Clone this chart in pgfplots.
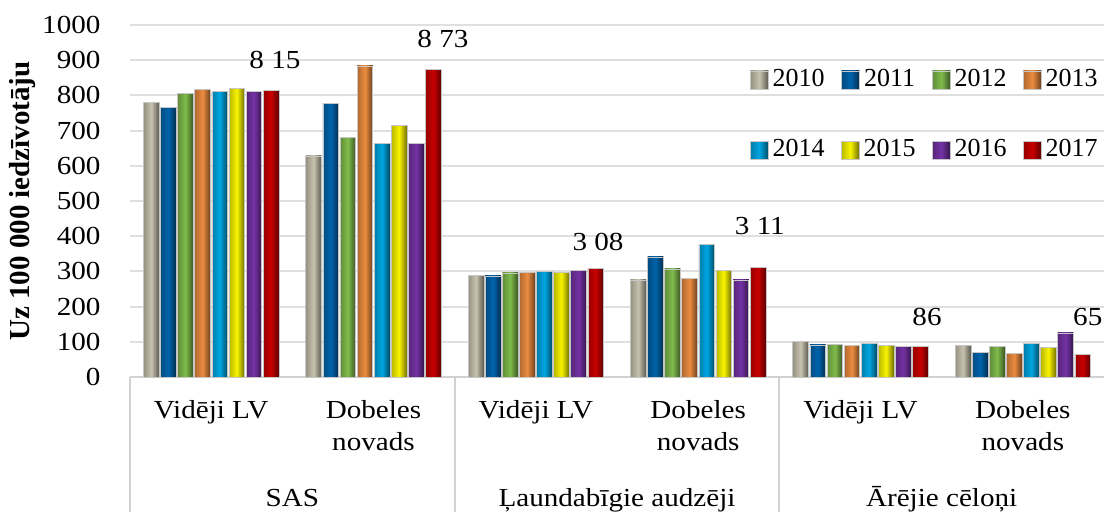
\documentclass[border=0pt]{standalone}
\usepackage{fontspec}
\setmainfont{Liberation Serif}
\usepackage{pgfplots}
\usepackage{pgfplotstable}
\pgfplotsset{compat=1.18}
\definecolor{c0}{RGB}{200,195,175}
\definecolor{c1}{RGB}{0,100,172}
\definecolor{c2}{RGB}{128,188,76}
\definecolor{c3}{RGB}{236,140,64}
\definecolor{c4}{RGB}{0,166,226}
\definecolor{c5}{RGB}{248,244,0}
\definecolor{c6}{RGB}{116,50,164}
\definecolor{c7}{RGB}{200,0,0}
\pgfplotsset{bevel/.style={draw=gray!45, line width=0.3pt, left color=#1!75!black, right color=#1!45!black, middle color=#1}}
\pgfplotstableread{
x y2010 y2011 y2012 y2013 y2014 y2015 y2016 y2017
0 780 765 806 816 812 820 812 815
1 628 778 681 884 664 715 663 873
2 288 287 296 297 301 298 302 308
3 276 341 307 280 377 302 276 311
4 100 91 93 90 95 89 86 86
5 89 69 88 66 96 84 125 65
}\data
\newcommand{\bevelseries}[3]{%
  \pgfplotsinvokeforeach{0,...,5}{%
    \addplot[bevel=#1, bar shift=#3, forget plot, restrict x to domain=##1:##1] table[x=x,y=#2]{\data};
  }%
}
\begin{document}
\fontsize{13}{16}\selectfont
\begin{tikzpicture}[txt/.style={xscale=1.12}]
\path[use as bounding box] (-65pt,-67.5pt) rectangle (487pt,188.5pt);
\begin{axis}[
  at={(0,0)}, anchor=south west,
  scale only axis, width=487pt, height=176pt,
  ybar, bar width=7.85pt,
  xmin=-0.5, xmax=5.5, ymin=0, ymax=1000,
  ytick={0,100,...,1000},
  xtick={0,...,5},
  xticklabels={Vidēji LV,{Dobeles\\novads},Vidēji LV,{Dobeles\\novads},Vidēji LV,{Dobeles\\novads}},
  xticklabel style={align=center, yshift=-7pt, xscale=1.12, font=\fontsize{13}{16}\selectfont},
  yticklabel style={xshift=-9.7pt, xscale=1.12, font=\fontsize{13}{16}\selectfont},
  /pgf/number format/assume math mode=true,
  /pgf/number format/1000 sep={},
  major tick length=0pt,
  axis lines*=left,
  y axis line style={draw=none},
  x axis line style={draw=gray!35, line width=1pt},
  ymajorgrids, grid style={gray!25, line width=1pt},
  clip=false,
  legend columns=4,
  legend style={at={(rel axis cs:1,1)}, anchor=north east, xshift=-1pt, yshift=-20pt,
    draw=none, fill=none, inner sep=0pt, row sep=20.5pt, font=\fontsize{13}{16}\selectfont,
    /tikz/every even column/.append style={column sep=6.2pt}},
  legend image code/.code={\path[#1] (0pt,-4.5pt) rectangle (9pt,4.5pt);},
]
\bevelseries{c0}{y2010}{-29.925pt}
\bevelseries{c1}{y2011}{-21.375pt}
\bevelseries{c2}{y2012}{-12.825pt}
\bevelseries{c3}{y2013}{-4.275pt}
\bevelseries{c4}{y2014}{4.275pt}
\bevelseries{c5}{y2015}{12.825pt}
\bevelseries{c6}{y2016}{21.375pt}
\bevelseries{c7}{y2017}{29.925pt}
\addlegendimage{bevel=c0}\addlegendentry{2010}
\addlegendimage{bevel=c1}\addlegendentry{2011}
\addlegendimage{bevel=c2}\addlegendentry{2012}
\addlegendimage{bevel=c3}\addlegendentry{2013}
\addlegendimage{bevel=c4}\addlegendentry{2014}
\addlegendimage{bevel=c5}\addlegendentry{2015}
\addlegendimage{bevel=c6}\addlegendentry{2016}
\addlegendimage{bevel=c7}\addlegendentry{2017}
\draw[gray!35, line width=1pt] (axis cs:-0.5,0) -- ++(0pt,-67.5pt);
\draw[gray!35, line width=1pt] (axis cs:1.5,0) -- ++(0pt,-67.5pt);
\draw[gray!35, line width=1pt] (axis cs:3.5,0) -- ++(0pt,-67.5pt);
\node[txt, anchor=base] at ([yshift=-65pt]axis cs:0.5,0) {SAS};
\node[txt, anchor=base] at ([yshift=-65pt]axis cs:2.5,0) {Ļaundabīgie audzēji};
\node[txt, anchor=base] at ([yshift=-65pt]axis cs:4.5,0) {Ārējie cēloņi};
\node[txt] at (axis cs:0.393,900) {8 15};
\node[txt] at (axis cs:1.428,960) {8 73};
\node[txt] at (axis cs:2.383,383) {3 08};
\node[txt] at (axis cs:3.38,429) {3 11};
\node[txt] at (axis cs:4.41,170) {86};
\node[txt] at (axis cs:5.40,170) {65};
\node[rotate=90, font=\bfseries\fontsize{14.5}{16}\selectfont] at ([xshift=-53.5pt]axis cs:-0.5,500) {Uz 100 000 iedzīvotāju};
\end{axis}
\end{tikzpicture}
\end{document}
